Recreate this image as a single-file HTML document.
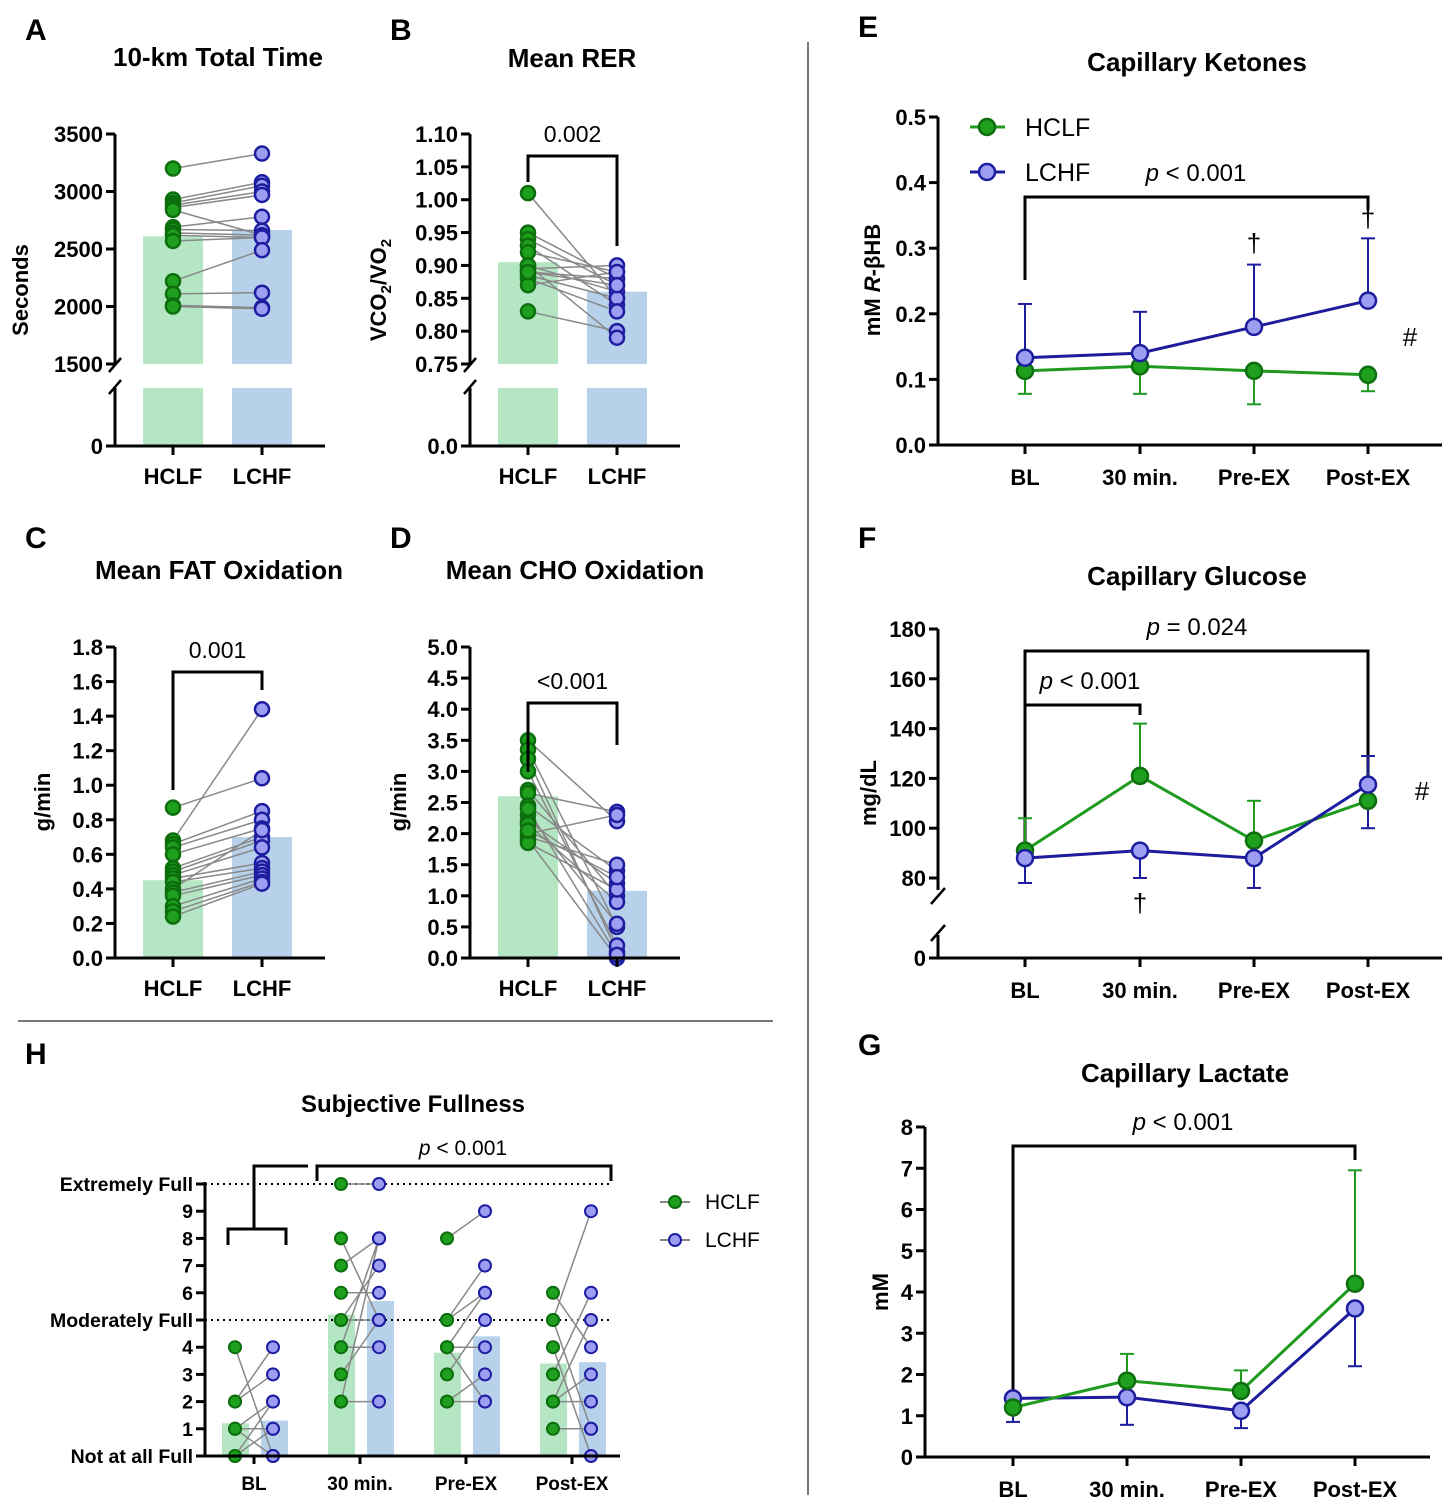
<!DOCTYPE html>
<html><head><meta charset="utf-8"><style>
html,body{margin:0;padding:0;background:#fff;}
svg{display:block;font-family:"Liberation Sans",Arial,sans-serif;}
</style></head><body>
<svg id="fig" width="1456" height="1508" viewBox="0 0 1456 1508" xmlns="http://www.w3.org/2000/svg">
<rect width="1456" height="1508" fill="#fff"/>
<line x1="808" y1="42" x2="808" y2="1495" stroke="#777" stroke-width="2"/>
<line x1="18" y1="1021" x2="773" y2="1021" stroke="#777" stroke-width="2"/>
<g font-weight="bold" font-size="30" fill="#000">
<text x="25" y="40">A</text>
<text x="390" y="40">B</text>
<text x="25" y="548">C</text>
<text x="390" y="548">D</text>
<text x="858" y="37">E</text>
<text x="858" y="548">F</text>
<text x="858" y="1055">G</text>
<text x="25" y="1064">H</text>
</g>
<g font-weight="bold" font-size="26" text-anchor="middle" fill="#000">
<text x="218" y="66">10-km Total Time</text>
<text x="572" y="67">Mean RER</text>
<text x="219" y="579">Mean FAT Oxidation</text>
<text x="575" y="579">Mean CHO Oxidation</text>
<text x="1197" y="71">Capillary Ketones</text>
<text x="1197" y="585">Capillary Glucose</text>
<text x="1185" y="1082">Capillary Lactate</text>
<text x="413" y="1112" font-size="24">Subjective Fullness</text>
</g>
<g font-weight="bold" font-size="22" text-anchor="middle" fill="#000">
<text transform="translate(28,290) rotate(-90)">Seconds</text>
<text transform="translate(386,290) rotate(-90)">VCO<tspan font-size="15" dy="5">2</tspan><tspan dy="-5">/VO</tspan><tspan font-size="15" dy="5">2</tspan></text>
<text transform="translate(50,802) rotate(-90)">g/min</text>
<text transform="translate(406,802) rotate(-90)">g/min</text>
<text transform="translate(880,280) rotate(-90)">mM <tspan font-style="italic">R</tspan>-βHB</text>
<text transform="translate(876,793) rotate(-90)">mg/dL</text>
<text transform="translate(888,1292) rotate(-90)">mM</text>
</g>
<g id="plots"></g>
</svg>
<script>
// ---------- data ----------
const groups = ['HCLF','LCHF'];
const timeLabels = ['BL','30 min.','Pre-EX','Post-EX'];
// Panel A (seconds)
const aHCLF = [3200,2930,2900,2880,2860,2840,2690,2670,2640,2620,2570,2220,2110,2010,2000];
const aLCHF = [3330,3080,3050,3000,2970,2620,2780,2660,2620,2600,2600,2490,2120,1990,1980];
const aMeans = [2610,2665];
const aTicks = [1500,2000,2500,3000,3500];
// Panel B (RER)
const bHCLF = [1.01,0.95,0.94,0.93,0.92,0.90,0.895,0.89,0.885,0.88,0.87,0.83,0.90,0.89];
const bLCHF = [0.85,0.88,0.87,0.84,0.89,0.86,0.90,0.88,0.85,0.83,0.89,0.80,0.79,0.87];
const bMeans = [0.905,0.86];
const bTicks = [0.75,0.80,0.85,0.90,0.95,1.00,1.05,1.10];
// Panel C (fat oxidation)
const cHCLF = [0.87,0.68,0.66,0.64,0.60,0.52,0.50,0.48,0.46,0.44,0.40,0.38,0.36,0.30,0.27,0.24];
const cLCHF = [1.04,1.44,0.85,0.80,0.75,0.70,0.68,0.64,0.55,0.52,0.74,0.50,0.48,0.46,0.44,0.43];
const cMeans = [0.45,0.70];
const cTicks = [0,0.2,0.4,0.6,0.8,1.0,1.2,1.4,1.6,1.8];
// Panel D (CHO oxidation)
const dHCLF = [3.5,3.35,3.2,3.0,2.7,2.65,2.45,2.3,2.2,2.15,2.0,1.95,1.9,1.85,2.4,2.05];
const dLCHF = [2.2,0.5,0.1,0.2,1.0,2.35,1.4,0.55,1.2,0.9,2.3,1.5,0.0,1.1,0.05,1.3];
const dMeans = [2.6,1.08];
const dTicks = [0,0.5,1.0,1.5,2.0,2.5,3.0,3.5,4.0,4.5,5.0];
// Panel E ketones
const eHCLF = [0.113,0.120,0.113,0.107];
const eLCHF = [0.133,0.140,0.180,0.220];
const eHCLFlo = [0.078,0.078,0.062,0.082];
const eLCHFhi = [0.215,0.203,0.275,0.315];
const eTicks = [0,0.1,0.2,0.3,0.4,0.5];
// Panel F glucose
const fHCLF = [91,121,95,111];
const fLCHF = [88,91,88,117.5];
const fHCLFhi = [104,142,111,null];
const fLCHFlo = [78,80,76,100];
const fLCHFhi = [null,null,null,129];
const fTicks = [80,100,120,140,160,180];
// Panel G lactate
const gHCLF = [1.2,1.85,1.6,4.2];
const gLCHF = [1.42,1.45,1.12,3.6];
const gHCLFhi = [null,2.5,2.1,6.95];
const gLCHFlo = [0.85,0.78,0.7,2.2];
const gTicks = [0,1,2,3,4,5,6,7,8];
// Panel H fullness (pairs HCLF -> LCHF per time point)
const hBL_H = [4,2,2,1,1,1,0,0];
const hBL_L = [0,4,3,2,1,0,2,1];
const h30_H = [10,8,7,6,5,5,4,4,3,2,2];
const h30_L = [10,5,8,6,7,5,8,4,5,2,8];
const hPre_H = [8,5,5,4,4,3,2,2,4];
const hPre_L = [9,6,7,4,6,5,3,2,2];
const hPost_H = [6,5,4,3,2,2,1,2,5];
const hPost_L = [4,9,0,6,2,5,1,3,1];
const hMeansH = [1.2,5.2,3.8,3.4];
const hMeansL = [1.3,5.7,4.4,3.45];
const hTickLabels = ['Not at all Full','1','2','3','4','Moderately Full','6','7','8','9','Extremely Full'];

// ---------- helpers ----------
const NS='http://www.w3.org/2000/svg';
const root=document.getElementById('plots');
const GF='#1ea01e', GS='#0d6e0d', BF='#9d9df2', BS='#1d1da0', GL='#1f9a1f', BLc='#1c1c9c';
const GBAR='#b4e6c4', BBAR='#b8d1eb';
const TICK=22;
function mk(tag,attrs,parent){const e=document.createElementNS(NS,tag);for(const k in attrs)e.setAttribute(k,attrs[k]);(parent||root).appendChild(e);return e;}
function lin(d0,d1,r0,r1){return v=>r0+(v-d0)*(r1-r0)/(d1-d0);}
function txt(x,y,s,size,anchor,parent,bold){const t=mk('text',{x:x,y:y,'font-size':size,'text-anchor':anchor||'middle','font-weight':bold===false?'normal':'bold'},parent);t.textContent=s;return t;}
function line(x1,y1,x2,y2,c,w,parent){return mk('line',{x1,y1,x2,y2,stroke:c||'#000','stroke-width':w||3},parent);}

function pairedPanel(o){
  const g=mk('g',{});
  
  
  const y=lin(o.d0,o.d1,o.r0,o.r1);
  const xs=[o.ax+58,o.ax+147];
  [0,1].forEach(i=>{
    const top=y(o.means[i]);
    const r=mk('rect',{x:xs[i]-30,y:top,width:60,height:o.barBottom-top,fill:i?BBAR:GBAR},g);
    
    
    if(o.brk){const r2=mk('rect',{x:xs[i]-30,y:o.brk.lo,width:60,height:o.brk.zero-o.brk.lo,fill:i?BBAR:GBAR},g);
      
      }
  });
  o.h.forEach((v,i)=>{const l=line(xs[0],y(v),xs[1],y(o.l[i]),'#888',1.5,g);
    
    });
  o.h.forEach(v=>{const c=mk('circle',{cx:xs[0],cy:y(v),r:7,fill:GF,stroke:GS,'stroke-width':2.5},g);
    
    });
  o.l.forEach(v=>{const c=mk('circle',{cx:xs[1],cy:y(v),r:7,fill:BF,stroke:BS,'stroke-width':2.5},g);
    
    });
  const zero=o.brk?o.brk.zero:o.r0;
  line(o.ax-1.5,zero,o.ax+210,zero,'#000',3,g);
  if(o.brk){line(o.ax,o.r1,o.ax,o.r0,'#000',3,g);line(o.ax,o.brk.lo,o.ax,zero,'#000',3,g);
    line(o.ax-6,o.r0+8,o.ax+6,o.r0-6,'#000',2.5,g);line(o.ax-6,o.brk.lo+6,o.ax+6,o.brk.lo-8,'#000',2.5,g);
    line(o.ax-9,zero,o.ax,zero,'#000',3,g);txt(o.ax-12,zero+8,o.brk.label,TICK,'end',g);}
  else line(o.ax,o.r1,o.ax,o.r0,'#000',3,g);
  o.ticks.forEach(t=>{line(o.ax-9,y(t),o.ax,y(t),'#000',3,g);const tl=txt(o.ax-12,y(t)+8,o.fmt(t),TICK,'end',g);
    
    });
  [0,1].forEach(i=>{line(xs[i],zero,xs[i],zero+9,'#000',3,g);const tl=txt(xs[i],zero+38,groups[i],22,'middle',g);
    
    });
  if(o.bracket){const b=o.bracket;
    const p=mk('path',{d:`M${xs[0]},${b.l} V${b.y} H${xs[1]} V${b.r}`,fill:'none',stroke:'#000','stroke-width':3},g);
    
    
    const t=txt((xs[0]+xs[1])/2,b.y-14,b.label,23,'middle',g,false);
    
    }
}

pairedPanel({name:'panel-a-total-time',ax:115,d0:1500,d1:3500,r0:364,r1:134,barBottom:364,means:aMeans,h:aHCLF,l:aLCHF,ticks:aTicks,fmt:t=>String(t),brk:{lo:388,zero:446,label:'0'}});
pairedPanel({name:'panel-b-mean-rer',ax:470,d0:0.75,d1:1.10,r0:364,r1:134,barBottom:364,means:bMeans,h:bHCLF,l:bLCHF,ticks:bTicks,fmt:t=>t.toFixed(2),brk:{lo:388,zero:446,label:'0.0'},bracket:{y:156,l:182,r:246,label:'0.002'}});
pairedPanel({name:'panel-c-fat-oxidation',ax:115,d0:0,d1:1.8,r0:958,r1:647,barBottom:958,means:cMeans,h:cHCLF,l:cLCHF,ticks:cTicks,fmt:t=>t.toFixed(1),bracket:{y:672,l:790,r:690,label:'0.001'}});
pairedPanel({name:'panel-d-cho-oxidation',ax:470,d0:0,d1:5,r0:958,r1:647,barBottom:958,means:dMeans,h:dHCLF,l:dLCHF,ticks:dTicks,fmt:t=>t.toFixed(1),bracket:{y:703,l:772,r:745,label:'<0.001'}});

function tsPanel(o){
  const g=mk('g',{});
  
  
  const y=lin(o.d0,o.d1,o.r0,o.r1);
  const xs=o.xs;
  const zero=o.brk?o.brk.zero:o.r0;
  line(o.ax-1.5,zero,o.axEnd,zero,'#000',3,g);
  if(o.brk){line(o.ax,o.r1,o.ax,o.r0+12,'#000',3,g);line(o.ax,o.brk.lo,o.ax,zero,'#000',3,g);
    line(o.ax-7,o.r0+26,o.ax+7,o.r0+10,'#000',2.5,g);line(o.ax-7,o.brk.lo+6,o.ax+7,o.brk.lo-10,'#000',2.5,g);
    line(o.ax-9,zero,o.ax,zero,'#000',3,g);txt(o.ax-12,zero+8,'0',TICK,'end',g);}
  else line(o.ax,o.r1,o.ax,o.r0,'#000',3,g);
  o.ticks.forEach(t=>{line(o.ax-9,y(t),o.ax,y(t),'#000',3,g);const tl=txt(o.ax-12,y(t)+8,o.fmt(t),TICK,'end',g);
    
    });
  timeLabels.forEach((s,i)=>{line(xs[i],zero,xs[i],zero+9,'#000',3,g);const tl=txt(xs[i],zero+40,s,22,'middle',g);
    
    });
  (o.brackets||[]).forEach(b=>{const p=mk('path',{d:`M${xs[b.i0]},${b.l} V${b.y} H${xs[b.i1]} V${b.r}`,fill:'none',stroke:'#000','stroke-width':3},g);
    
    
    const t=mk('text',{x:b.tx,y:b.y-16,'font-size':24,'text-anchor':'middle'},g);
    t.innerHTML='<tspan font-style="italic">p</tspan> '+b.label;
    
    });
  function err(vals,ends,col){ends.forEach((e,i)=>{if(e==null)return;
    const l=line(xs[i],y(vals[i]),xs[i],y(e),col,2,g);
    
    
    line(xs[i]-7,y(e),xs[i]+7,y(e),col,2,g);});}
  err(o.h,o.hHi||[],GL);err(o.h,o.hLo||[],GL);err(o.l,o.lHi||[],BLc);err(o.l,o.lLo||[],BLc);
  const order=o.greenOnTop?[['l',BLc,BF,BS],['h',GL,GF,GS]]:[['h',GL,GF,GS],['l',BLc,BF,BS]];
  order.forEach(([k,lc,fc,sc])=>{const vals=o[k];
    const pl=mk('polyline',{points:vals.map((v,i)=>xs[i]+','+y(v)).join(' '),fill:'none',stroke:lc,'stroke-width':3},g);
    
    
    vals.forEach((v,i)=>{const c=mk('circle',{cx:xs[i],cy:y(v),r:8,fill:fc,stroke:sc,'stroke-width':2.5},g);
      
      });});
  (o.marks||[]).forEach(m=>{const t=txt(m.x,m.y,m.s,26,'middle',g,false);
    
    });
  return y;
}

tsPanel({name:'panel-e-ketones',ax:938,axEnd:1442,xs:[1025,1140,1254,1368],d0:0,d1:0.5,r0:445,r1:117,ticks:eTicks,fmt:t=>t.toFixed(1),
  h:eHCLF,l:eLCHF,hLo:eHCLFlo,lHi:eLCHFhi,
  brackets:[{i0:0,i1:3,y:197,l:280,r:210,tx:1196,label:'&lt; 0.001'}],
  marks:[{x:1254,y:252,s:'†'},{x:1368,y:227,s:'†'},{x:1410,y:346,s:'#'}]});
tsPanel({name:'panel-f-glucose',ax:938,axEnd:1442,xs:[1025,1140,1254,1368],d0:80,d1:180,r0:878,r1:629,ticks:fTicks,fmt:t=>String(t),brk:{lo:935,zero:958},
  h:fHCLF,l:fLCHF,hHi:fHCLFhi,lLo:fLCHFlo,lHi:fLCHFhi,greenOnTop:false,
  brackets:[{i0:0,i1:3,y:651,l:850,r:790,tx:1197,label:'= 0.024'},{i0:0,i1:1,y:705,l:845,r:715,tx:1090,label:'&lt; 0.001'}],
  marks:[{x:1140,y:912,s:'†'},{x:1422,y:800,s:'#'}]});
tsPanel({name:'panel-g-lactate',ax:925,axEnd:1430,xs:[1013,1127,1241,1355],d0:0,d1:8,r0:1457,r1:1127,ticks:gTicks,fmt:t=>String(t),
  h:gHCLF,l:gLCHF,hHi:gHCLFhi,lLo:gLCHFlo,greenOnTop:true,
  brackets:[{i0:0,i1:3,y:1146,l:1395,r:1160,tx:1183,label:'&lt; 0.001'}]});

(function(){const g=mk('g',{});
  
  
  [[127,GL,GF,GS,'HCLF'],[172,BLc,BF,BS,'LCHF']].forEach(([yy,lc,fc,sc,s])=>{
    line(970,yy,1005,yy,lc,3,g);mk('circle',{cx:987,cy:yy,r:8,fill:fc,stroke:sc,'stroke-width':2.5},g);
    const t=txt(1025,yy+9,s,25,'start',g,false);
    
    });})();

(function(){
  const g=mk('g',{});
  
  
  const y=lin(0,10,1456,1184);
  const ax=205, cx=[254,360,466,572];
  const sets=[[hBL_H,hBL_L],[h30_H,h30_L],[hPre_H,hPre_L],[hPost_H,hPost_L]];
  cx.forEach((c,i)=>{
    const r1=mk('rect',{x:c-32,y:y(hMeansH[i]),width:27,height:1456-y(hMeansH[i]),fill:GBAR},g);
    
    
    const r2=mk('rect',{x:c+7,y:y(hMeansL[i]),width:27,height:1456-y(hMeansL[i]),fill:BBAR},g);
    
    
  });
  [10,5].forEach(v=>{const l=mk('line',{x1:ax,y1:y(v),x2:612,y2:y(v),stroke:'#000','stroke-width':2,'stroke-dasharray':'2,4'},g);
    
    });
  sets.forEach((s,i)=>{const xg=cx[i]-19,xb=cx[i]+19;
    s[0].forEach((v,j)=>{const l=line(xg,y(v),xb,y(s[1][j]),'#888',1.5,g);
      
      });
    s[0].forEach(v=>{const c=mk('circle',{cx:xg,cy:y(v),r:6,fill:GF,stroke:GS,'stroke-width':2},g);
      
      });
    s[1].forEach(v=>{const c=mk('circle',{cx:xb,cy:y(v),r:6,fill:BF,stroke:BS,'stroke-width':2},g);
      
      });
  });
  line(ax,1182,ax,1456,'#000',3,g);line(ax-8,1456,620,1456,'#000',3,g);
  hTickLabels.forEach((s,i)=>{line(ax-9,y(i),ax,y(i),'#000',3,g);const t=txt(ax-12,y(i)+7,s,19.5,'end',g);
    
    });
  timeLabels.forEach((s,i)=>{line(cx[i],1456,cx[i],1464,'#000',3,g);const t=txt(cx[i],1490,s,19,'middle',g);
    
    });
  const b1=mk('path',{d:'M228,1245 V1229 H286 V1245 M254,1229 V1166 H308 M317,1181 V1166 H611 V1181',fill:'none',stroke:'#000','stroke-width':3},g);
  
  
  const pt=mk('text',{x:463,y:1155,'font-size':21,'text-anchor':'middle'},g);
  pt.innerHTML='<tspan font-style="italic">p</tspan> &lt; 0.001';
  
  
  [[1202,GL,GF,GS,'HCLF'],[1240,BLc,BF,BS,'LCHF']].forEach(([yy,lc,fc,sc,s])=>{
    line(660,yy,690,yy,'#888',2,g);mk('circle',{cx:675,cy:yy,r:6,fill:fc,stroke:sc,'stroke-width':2},g);
    const t=txt(705,yy+7,s,21,'start',g,false);
    
    });
})();
</script>
</body></html>
